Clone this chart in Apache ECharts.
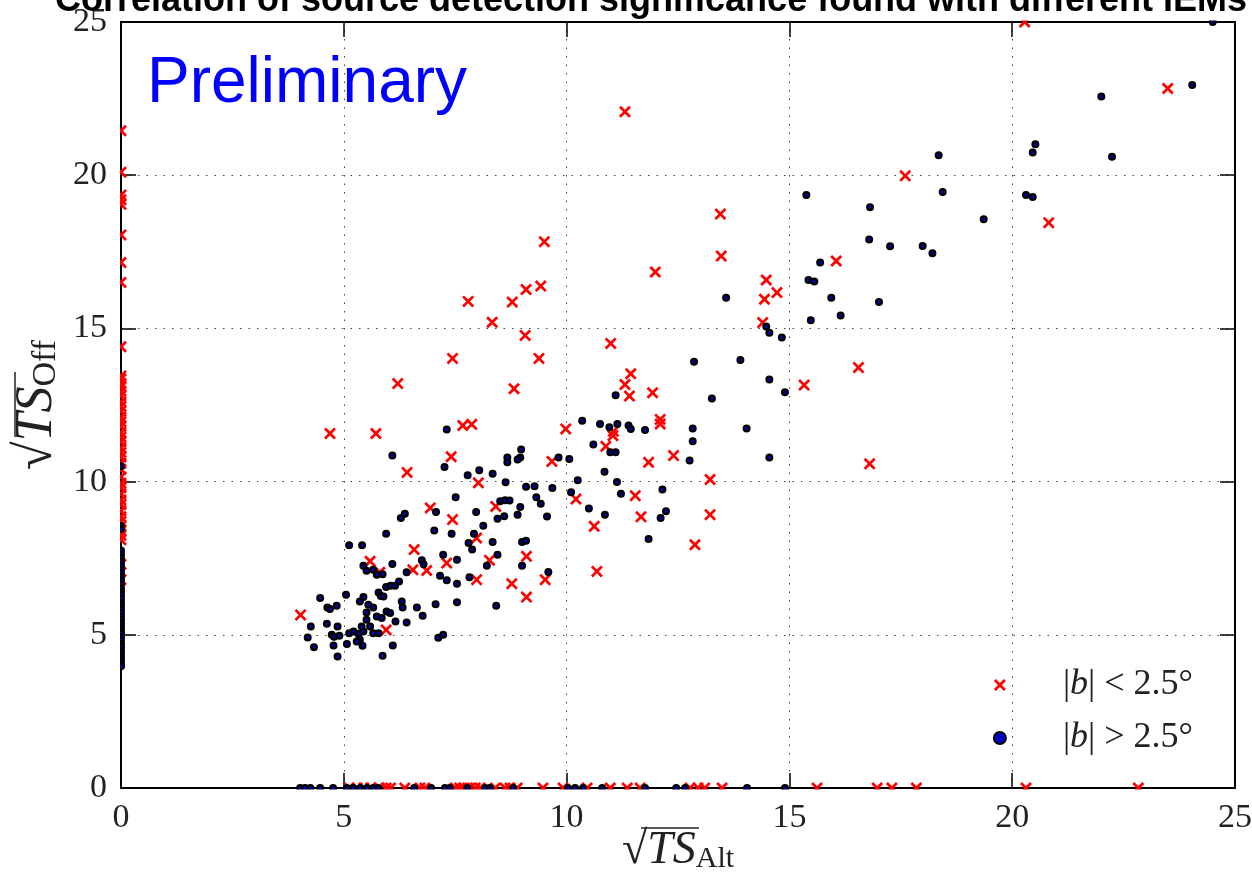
<!DOCTYPE html>
<html>
<head>
<meta charset="utf-8">
<script src="https://cdn.jsdelivr.net/npm/echarts@6/dist/echarts.min.js"></script>
<style>
  html, body { margin: 0; padding: 0; background: #fff; }
  #chart { width: 1252px; height: 879px; }
</style>
</head>
<body>
<div id="chart"></div>
<script>
// axis ticks
const xTicks = [0, 5, 10, 15, 20, 25]
const yTicks = [0, 5, 10, 15, 20, 25]

// |b| < 2.5 deg : sources with sqrt(TS_Alt) = 0 (sitting on the y axis)
const lowOnYAxis = [21.45, 20.1, 19.35, 19.2, 19.05, 18.05, 17.15, 16.5, 14.4, 13.45, 13.35, 13.2, 13.1,
  12.95, 12.8, 12.6, 12.45, 12.3, 12.1, 11.95, 11.8, 11.6, 11.45, 11.3, 11.1, 10.95, 10.8, 10.6, 10.4,
  10.15, 9.95, 9.8, 9.6, 9.4, 9.25, 9.05, 8.85, 8.7, 8.55, 8.4, 8.25, 8.1, 7.3, 6.8]
// |b| < 2.5 deg : sources with sqrt(TS_Off) = 0 (sitting on the x axis)
const lowOnXAxis = [5.12, 5.3, 5.45, 5.6, 5.8, 5.95, 6.05, 6.37, 6.71, 6.82, 7.5, 7.6, 7.7, 7.83, 7.95,
  8.06, 8.4, 8.62, 8.73, 8.89, 9.47, 9.92, 10.46, 10.98, 11.36, 11.65, 12.77, 12.95, 13.1, 13.49, 15.62,
  16.97, 17.3, 17.85, 20.31, 22.83]
// |b| < 2.5 deg : detected in both
const lowBoth = [
  [4.03, 5.65], [5.59, 7.4], [5.81, 7.04], [5.95, 5.16], [6.58, 7.78], [6.55, 7.12], [6.86, 7.1],
  [6.94, 9.14], [7.44, 8.76], [7.31, 7.34], [7.98, 8.16], [7.98, 6.8], [8.02, 9.96], [8.41, 9.19],
  [8.27, 7.43], [8.77, 6.67], [9.1, 7.56], [9.1, 6.23], [9.52, 6.8], [9.07, 14.77], [7.44, 14.02],
  [9.38, 14.02], [8.82, 13.03], [7.67, 11.83], [7.87, 11.87], [7.41, 10.81], [9.98, 11.72], [9.67, 10.66],
  [10.99, 14.51], [11.44, 13.52], [11.31, 13.17], [11.41, 12.79], [11.93, 12.9], [12.1, 12.03],
  [12.1, 11.88], [11.04, 11.5], [11.05, 11.64], [10.88, 11.15], [11.84, 10.63], [12.4, 10.85],
  [13.22, 10.07], [10.21, 9.43], [11.54, 9.54], [11.67, 8.85], [10.62, 8.54], [13.22, 8.92],
  [12.88, 7.94], [10.68, 7.07], [13.47, 17.36], [16.05, 17.2], [14.48, 16.58], [14.72, 16.17],
  [14.44, 15.95], [14.4, 15.19], [16.55, 13.72], [15.33, 13.15], [16.8, 10.58], [20.28, 25.0],
  [23.49, 22.83], [17.6, 19.98], [20.82, 18.45], [11.31, 22.07], [13.45, 18.73], [11.99, 16.84],
  [9.5, 17.83], [9.09, 16.27], [9.42, 16.38], [8.78, 15.86], [7.79, 15.88], [8.33, 15.2],
  [4.69, 11.57], [5.72, 11.57], [6.21, 13.2], [6.42, 10.3]
]

// |b| > 2.5 deg
const highOnYAxis = [10.5, 8.55, 8.45, 7.75, 7.62, 7.5, 7.38, 7.25, 7.12, 7.0, 6.88, 6.77, 6.65, 6.52,
  6.4, 6.3, 6.18, 6.05, 5.95, 5.83, 5.72, 5.6, 5.5, 5.38, 5.27, 5.15, 5.05, 4.93, 4.82, 4.7, 4.6, 4.48,
  4.37, 4.25, 4.15, 4.05, 3.97]
const highOnXAxis = [4.02, 4.13, 4.25, 4.47, 4.76, 5.07, 5.21, 5.37, 5.52, 5.66, 5.77, 6.58, 6.96, 7.27,
  7.38, 7.77, 8.17, 8.28, 8.8, 10.03, 10.19, 10.37, 10.8, 11.76, 12.46, 12.66, 14.05, 14.9]
const highBoth = [
  [4.47, 6.2], [4.63, 5.89], [4.69, 5.84], [4.84, 5.95], [4.26, 5.27], [4.19, 4.91], [4.33, 4.59],
  [4.62, 5.36], [4.86, 5.27], [4.73, 5.0], [4.77, 4.65], [4.86, 4.29], [5.05, 6.31], [5.12, 7.92],
  [5.41, 7.92], [5.44, 7.25], [5.51, 7.09], [5.66, 7.12], [5.74, 6.96], [5.87, 6.98], [6.09, 7.31],
  [5.36, 6.09], [5.44, 6.23], [5.55, 5.98], [5.66, 5.89], [5.51, 5.73], [5.74, 5.6], [5.85, 5.55],
  [5.96, 5.76], [6.04, 5.71], [5.78, 6.38], [5.83, 6.27], [5.89, 6.25], [5.95, 6.56], [6.05, 6.6],
  [6.15, 6.6], [6.24, 6.74], [6.3, 6.09], [6.32, 5.89], [6.16, 5.43], [6.41, 5.4], [6.1, 4.65],
  [5.87, 4.32], [5.12, 5.05], [5.22, 5.11], [5.33, 5.03], [5.4, 5.27], [5.44, 5.11], [5.36, 4.84],
  [5.42, 4.64], [5.29, 4.78], [5.51, 5.49], [5.59, 5.27], [5.66, 5.05], [5.78, 5.05], [5.07, 4.7],
  [4.9, 4.97], [4.78, 4.94], [6.28, 8.81], [6.37, 8.95], [5.95, 8.3], [6.41, 7.04], [6.75, 7.43],
  [6.79, 7.3], [6.64, 5.89], [6.77, 5.62], [7.07, 9.01], [7.03, 8.4], [7.23, 7.61], [7.16, 6.93],
  [7.31, 6.78], [7.54, 7.45], [7.54, 6.67], [7.06, 6.0], [7.12, 4.9], [7.23, 5.0], [7.51, 9.49],
  [7.54, 6.06], [7.8, 8.0], [7.88, 7.78], [7.92, 8.3], [7.97, 9.01], [8.13, 8.56], [7.82, 6.88],
  [8.21, 7.25], [8.34, 8.03], [8.45, 7.61], [8.42, 5.95], [8.45, 8.79], [8.51, 9.36], [8.62, 9.39],
  [8.72, 9.38], [8.6, 8.87], [8.9, 8.92], [8.96, 9.17], [9.0, 8.03], [9.09, 8.07], [9.0, 7.25],
  [8.63, 9.98], [9.09, 9.83], [7.42, 8.3], [6.09, 10.85],
  [12.86, 13.91], [13.26, 12.71], [11.1, 12.82], [10.35, 11.99], [10.75, 11.88], [10.96, 11.77],
  [11.14, 11.88], [11.39, 11.83], [11.44, 11.72], [11.76, 11.68], [12.83, 11.73], [12.83, 11.32],
  [12.76, 10.69], [10.6, 11.21], [10.98, 10.96], [11.1, 10.96], [10.85, 10.32], [11.13, 9.99],
  [11.22, 9.6], [12.15, 9.74], [12.23, 9.03], [12.11, 8.81], [11.84, 8.13], [10.86, 8.92], [10.5, 9.12],
  [10.25, 10.04], [10.1, 9.65], [10.06, 10.74], [9.82, 10.79], [9.68, 9.79], [9.56, 8.86], [9.42, 9.28],
  [9.32, 9.49], [9.28, 9.85], [8.98, 11.05], [8.96, 10.79], [8.9, 10.72], [8.67, 10.79], [8.67, 10.63],
  [8.34, 10.26], [8.04, 10.37], [7.78, 10.21], [7.26, 10.48], [7.31, 11.7], [9.59, 7.05],
  [18.21, 17.45], [15.69, 17.15], [15.43, 16.58], [15.56, 16.53], [15.94, 16.0], [17.01, 15.86],
  [16.15, 15.42], [15.48, 15.27], [13.58, 16.0], [14.48, 15.06], [14.55, 14.86], [14.83, 14.7],
  [13.9, 13.97], [14.55, 13.33], [14.9, 12.92], [14.04, 11.73], [14.55, 10.79],
  [24.5, 25.0], [24.04, 22.94], [22.0, 22.57], [20.52, 21.01], [20.46, 20.74], [22.24, 20.6],
  [18.35, 20.65], [18.44, 19.45], [20.31, 19.35], [20.46, 19.29], [19.36, 18.56], [17.99, 17.69],
  [15.38, 19.35], [16.81, 18.95], [16.79, 17.9], [17.26, 17.68]
]

const lowName = '|b| < 2.5°'
const highName = '|b| > 2.5°'
const serif = '"Liberation Serif", "DejaVu Serif", serif'
const sans = '"Liberation Sans", Arial, sans-serif'
const crossPath = 'path://M0,1.6L1.6,0L5,3.4L8.4,0L10,1.6L6.6,5L10,8.4L8.4,10L5,6.6L1.6,10L0,8.4L3.4,5Z'

function toPoints(onY, onX, both) {
  const pts = []
  onY.forEach(function(v) { pts.push([0, v]) })
  onX.forEach(function(v) { pts.push([v, 0]) })
  both.forEach(function(p) { pts.push(p) })
  return pts
}

const chart = echarts.init(document.getElementById('chart'))

const axisCommon = {
  type: 'value',
  min: 0,
  max: 25,
  interval: 5,
  axisLine: { show: true, onZero: false, lineStyle: { color: '#000', width: 2 } },
  axisTick: { show: true, inside: true, length: 15, lineStyle: { color: '#000', width: 1.5 } }
}

function nameRich(size, sub) {
  return {
    r: { fontFamily: serif, fontSize: size, color: '#222' },
    i: { fontFamily: serif, fontStyle: 'italic', fontSize: size, color: '#222' },
    s: { fontFamily: serif, fontSize: sub, color: '#222', verticalAlign: 'bottom', lineHeight: sub + 4 }
  }
}

const option = {
  backgroundColor: '#fff',
  animation: false,
  grid: { left: 121, right: 17, top: 22, bottom: 91, containLabel: false, outerBoundsMode: 'none' },
  legend: {
    orient: 'vertical',
    right: 54,
    top: 662,
    itemWidth: 12,
    itemHeight: 12,
    itemGap: 17,
    data: [{ name: lowName, icon: crossPath }, { name: highName, icon: 'circle' }],
    formatter: function(name) {
      return name === lowName ? '|{it|b}| < 2.5°' : '|{it|b}| > 2.5°'
    },
    textStyle: {
      fontFamily: serif,
      fontSize: 36,
      color: '#222',
      lineHeight: 36,
      padding: [0, 0, 0, 52],
      rich: { it: { fontFamily: serif, fontStyle: 'italic', fontSize: 36, color: '#222' } }
    }
  },
  xAxis: [
    Object.assign({}, axisCommon, {
      position: 'bottom',
      axisLabel: {
        margin: 13,
        fontFamily: serif,
        fontSize: 34,
        color: '#222',
        formatter: function(v) { return xTicks.indexOf(v) >= 0 ? String(v) : '' }
      },
      splitLine: { show: true, lineStyle: { color: '#444', width: 1, type: [1.5, 7] } },
      name: '{r|√}{i|TS}{s|Alt}',
      nameLocation: 'middle',
      nameGap: 40,
      nameMoveOverlap: false,
      nameTextStyle: { rich: nameRich(46, 30) }
    }),
    Object.assign({}, axisCommon, {
      position: 'top',
      axisLabel: { show: false },
      splitLine: { show: false }
    })
  ],
  yAxis: [
    Object.assign({}, axisCommon, {
      position: 'left',
      axisLabel: {
        margin: 14,
        fontFamily: serif,
        fontSize: 34,
        color: '#222',
        formatter: function(v) { return yTicks.indexOf(v) >= 0 ? String(v) : '' }
      },
      splitLine: { show: true, lineStyle: { color: '#444', width: 1, type: [1.5, 7] } },
      name: '{r|√}{i|TS}{s|Off}',
      nameLocation: 'middle',
      nameGap: 58,
      nameMoveOverlap: false,
      nameRotate: 90,
      nameTextStyle: { rich: nameRich(52, 34) }
    }),
    Object.assign({}, axisCommon, {
      position: 'right',
      axisLabel: { show: false },
      splitLine: { show: false }
    })
  ],
  graphic: [
    {
      type: 'text', x: 55, y: 1, z: 120,
      style: {
        text: 'Correlation of source detection significance found with different IEMs',
        font: 'bold 36px ' + sans, fill: '#000', verticalAlign: 'middle'
      }
    },
    {
      type: 'text', x: 147, y: 84, z: 120,
      style: { text: 'Preliminary', font: '64px ' + sans, fill: '#0000ff', verticalAlign: 'middle' }
    },
    // vinculum over TS in the axis titles
    { type: 'line', z: 120, shape: { x1: 641, y1: 828, x2: 699, y2: 828 }, style: { stroke: '#222', lineWidth: 1.5 } },
    { type: 'line', z: 120, shape: { x1: 15, y1: 372, x2: 15, y2: 437 }, style: { stroke: '#222', lineWidth: 1.5 } },
    // white margins that cut markers sitting on the frame, like the clipped original
    { type: 'rect', z: 100, shape: { x: 109, y: 15, width: 11, height: 782 }, style: { fill: '#fff' } },
    { type: 'rect', z: 100, shape: { x: 109, y: 789.5, width: 1135, height: 8 }, style: { fill: '#fff' } },
    { type: 'rect', z: 100, shape: { x: 109, y: 15, width: 1135, height: 5.5 }, style: { fill: '#fff' } }
  ],
  series: [
    {
      name: lowName,
      type: 'scatter',
      symbol: crossPath,
      symbolSize: 12,
      clip: false,
      itemStyle: { color: '#ff0000', opacity: 1 },
      data: toPoints(lowOnYAxis, lowOnXAxis, lowBoth)
    },
    {
      name: highName,
      type: 'scatter',
      symbol: 'circle',
      symbolSize: 5.5,
      clip: false,
      itemStyle: { color: '#0000c8', borderColor: '#000', borderWidth: 2.5, opacity: 1 },
      data: toPoints(highOnYAxis, highOnXAxis, highBoth)
    }
  ]
}

chart.setOption(option)
window.addEventListener('resize', function() {
  chart.resize()
})
</script>
</body>
</html>
